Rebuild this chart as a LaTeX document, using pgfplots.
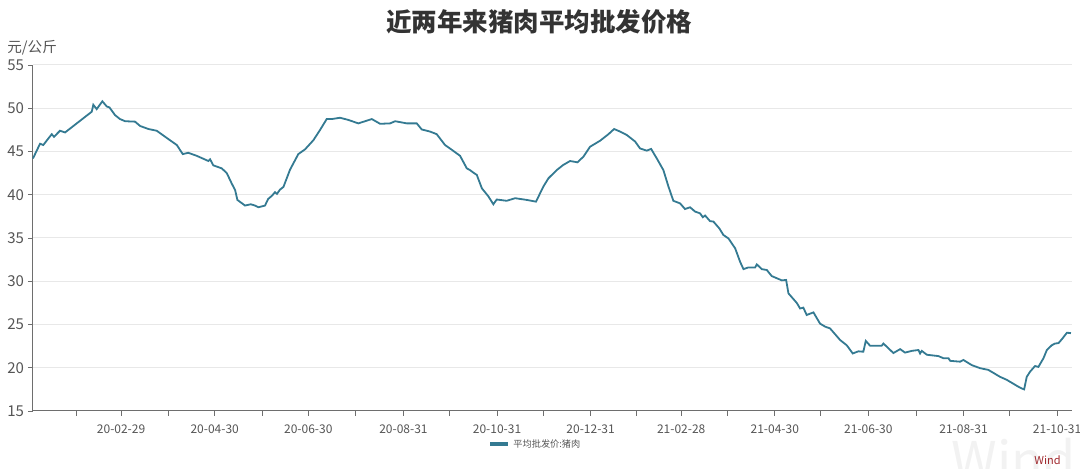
\documentclass[border=0pt]{standalone}
\usepackage{pgfplots}
\usepackage{pgfplotstable}
\pgfplotsset{compat=1.18}
\usepackage{fontspec}
\setmainfont{Noto Sans CJK SC}
\definecolor{linec}{RGB}{52,122,146}
\definecolor{gridc}{RGB}{232,232,232}
\definecolor{axisc}{RGB}{110,110,110}
\definecolor{labc}{RGB}{85,85,85}
\definecolor{windred}{RGB}{160,40,45}
\pgfplotstableread{
day price
1.6 44.2
6.2 45.9
8.3 45.75
13.8 47.0
15.3 46.7
19.2 47.4
22.5 47.2
39.9 49.6
40.9 50.4
43.1 49.9
46.8 50.8
49.7 50.2
51.4 50.1
55.1 49.2
58.3 48.75
61.6 48.5
68.1 48.45
71.4 47.95
76.8 47.6
82.2 47.4
90.9 46.3
95.3 45.75
99.2 44.7
102.8 44.85
108.3 44.5
115.9 43.9
117.0 44.1
119.1 43.4
124.6 43.05
127.9 42.5
131.1 41.3
133.3 40.55
134.8 39.4
139.8 38.75
143.5 38.9
146.3 38.75
148.5 38.55
152.8 38.75
154.8 39.5
157.4 39.9
159.3 40.3
160.6 40.1
162.6 40.6
164.8 40.9
169.1 42.9
174.5 44.7
178.9 45.25
184.3 46.3
188.7 47.5
193.0 48.75
196.3 48.75
201.7 48.9
207.1 48.65
213.6 48.25
222.4 48.75
227.8 48.2
234.3 48.25
237.6 48.5
245.2 48.25
251.7 48.25
254.9 47.55
260.4 47.3
264.7 47.0
270.1 45.75
274.5 45.2
279.9 44.5
284.3 43.05
286.4 42.85
288.6 42.55
290.8 42.3
294.1 40.75
298.4 39.8
301.6 38.9
303.8 39.45
310.3 39.3
315.8 39.6
323.4 39.4
329.4 39.2
334.2 40.95
337.5 41.9
342.9 42.85
347.2 43.45
351.6 43.9
356.4 43.75
360.3 44.4
364.6 45.55
371.2 46.25
376.6 47.0
380.3 47.6
384.2 47.3
388.6 46.9
394.0 46.15
397.2 45.35
401.6 45.1
404.4 45.3
408.1 44.2
412.4 42.85
415.7 40.95
418.9 39.3
423.3 39.0
426.5 38.35
429.8 38.55
433.1 38.05
436.3 37.85
438.1 37.4
439.6 37.6
442.8 36.95
445.0 36.9
448.9 36.1
451.5 35.35
454.8 34.95
459.2 33.8
462.4 32.25
464.6 31.4
467.8 31.6
472.2 31.6
473.3 31.95
476.5 31.4
479.8 31.3
483.0 30.6
489.6 30.1
492.4 30.15
493.9 28.6
499.3 27.5
501.5 26.85
503.6 26.95
505.8 26.1
510.2 26.4
514.5 25.1
517.8 24.75
521.0 24.55
527.6 23.2
531.9 22.6
535.8 21.65
539.5 21.9
542.7 21.85
544.3 23.1
547.1 22.55
554.7 22.55
555.8 22.8
562.3 21.7
566.7 22.15
569.9 21.75
574.3 21.95
578.6 22.05
579.7 21.65
580.8 21.95
584.1 21.5
591.6 21.35
594.9 21.1
598.2 21.1
599.3 20.8
605.8 20.7
607.9 20.9
613.4 20.3
618.8 19.95
624.2 19.75
631.8 18.95
636.2 18.6
643.8 17.8
646.0 17.6
647.5 17.5
649.2 18.95
651.4 19.55
654.6 20.2
656.8 20.1
660.1 21.1
662.3 22.05
665.5 22.6
667.7 22.8
669.9 22.85
672.1 23.3
675.4 24.05
678.0 24.0
}\pork
\begin{document}
\begin{tikzpicture}[x=0.5pt,y=0.5pt]
\useasboundingbox (0,0) rectangle (1080,469);
\node[anchor=south east, font=\fontsize{26}{28}\selectfont, text={rgb,255:red,242;green,242;blue,242}, inner sep=0pt] at (1076,-12) {Wind};
\begin{axis}[
  at={(16.5pt,29pt)}, anchor=south west,
  scale only axis, width=519.5pt, height=173pt,
  xmin=1.6, xmax=678.7, ymin=15, ymax=55,
  axis x line=bottom, axis y line=left,
  axis line style={-, draw=axisc, line width=0.5pt},
  tick align=outside,
  major tick length=2.5pt, minor tick length=2.5pt,
  tick style={draw=axisc, line width=0.4pt},
  xtick={59,120,181,243,304,365,424,485,546,608,669},
  xticklabels={20-02-29,20-04-30,20-06-30,20-08-31,20-10-31,20-12-31,21-02-28,21-04-30,21-06-30,21-08-31,21-10-31},
  minor xtick={30,90,151,212,273,334,395,454,515,577,638},
  ytick={15,20,...,55},
  ymajorgrids, grid style={draw=gridc, line width=0.5pt},
  /pgf/number format/assume math mode=true,
  xticklabel style={font=\fontsize{6}{7}\selectfont, text=labc, yshift=-1pt},
  yticklabel style={font=\fontsize{7.5}{9}\selectfont, text=labc, xshift=1.5pt},
  clip=false,
]
\addplot[linec, line width=0.9pt] table[x=day,y=price] {\pork};
\end{axis}
\node[font=\bfseries\fontsize{12.75}{15}\selectfont, text={rgb,255:red,51;green,51;blue,51}] at (539,447) {近两年来猪肉平均批发价格};
\node[anchor=west, font=\fontsize{7.3}{9}\selectfont, text=labc, inner sep=0pt] at (7,421) {元/公斤};
\draw[linec, line width=1.6pt] (490,25) -- (508,25);
\node[anchor=west, font=\fontsize{4.6}{6}\selectfont, text=labc, inner sep=0pt] at (513,25) {平均批发价:猪肉};
\node[anchor=east, font=\fontsize{5.5}{6}\selectfont, text=windred, inner sep=0pt] at (1061,9) {Wind};
\end{tikzpicture}
\end{document}
